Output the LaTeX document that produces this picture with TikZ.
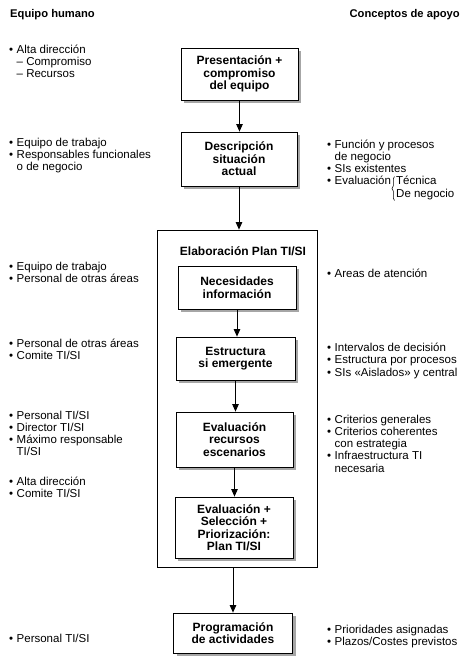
\documentclass[tikz,border=0pt]{standalone}
\usepackage{fontspec}
\setmainfont{Liberation Sans}
\usetikzlibrary{arrows.meta,shadows,decorations.pathreplacing}
\newcommand\bl{\makebox[7.5pt][l]{•}}
\newcommand\ind{\hspace*{7.5pt}}
\newcommand\lst[1]{\begin{tabular}[t]{@{}l@{}}#1\end{tabular}}
\begin{document}
\begin{tikzpicture}[x=1pt,y=-1pt,
  list/.style={anchor=base west, inner sep=0pt, font=\fontsize{11.5}{12.3}\selectfont},
  head/.style={inner sep=0pt, font=\bfseries\fontsize{11.2}{12.5}\selectfont},
  stepbox/.style={draw, line width=0.8pt, fill=white, align=center, inner sep=0pt,
    font=\bfseries\fontsize{12}{12.5}\selectfont,
    drop shadow={shadow xshift=3pt, shadow yshift=-3pt, fill=black!35, opacity=1}},
  arr/.style={-{Triangle[width=6.5pt,length=7.5pt]}, line width=0.8pt}]
\useasboundingbox (0,0) rectangle (476,665);
% headers
\node[head, anchor=base west] (hl) at (10,17) {Equipo humano};
\node[head, anchor=base east] (hr) at (460,17) {Conceptos de apoyo};
% big box
\node[draw, line width=0.8pt, minimum width=160pt, minimum height=337pt, inner sep=0pt] (big) at (237,398.5) {};
\node[anchor=base, inner sep=0pt, font=\bfseries\fontsize{12}{12.5}\selectfont] (title) at (243,255) {Elaboración Plan TI/SI};
% step boxes
\node[stepbox, minimum width=117pt, minimum height=52pt] (b1) at (239.5,74) {Presentación +\\compromiso\\del equipo};
\node[stepbox, minimum width=116pt, minimum height=54pt] (b2) at (239,159) {Descripción\\situación\\actual};
\node[stepbox, minimum width=118pt, minimum height=43pt] (b3) at (237,287.5) {Necesidades\\información};
\node[stepbox, minimum width=119pt, minimum height=43pt] (b4) at (235.5,358.5) {Estructura\\si emergente};
\node[stepbox, minimum width=117pt, minimum height=55pt] (b5) at (234.5,439.5) {Evaluación\\recursos\\escenarios};
\node[stepbox, minimum width=118pt, minimum height=61pt] (b6) at (234,527.5) {Evaluación +\\Selección +\\Priorización:\\Plan TI/SI};
\node[stepbox, minimum width=119pt, minimum height=40pt] (b7) at (233,633) {Programación\\de actividades};
% arrows
\draw[arr] (b1.south) -- (b1.south |- b2.north);
\draw[arr] (b2.south) -- (b2.south |- big.north);
\draw[arr] (b3.south) -- (b3.south |- b4.north);
\draw[arr] (b4.south) -- (b4.south |- b5.north);
\draw[arr] (b5.south) -- (b5.south |- b6.north);
\draw[arr] (b7.north |- big.south) -- (b7.north);
% left column
\node[list] (l1) at (9,53) {\lst{\bl Alta dirección\\\ind – Compromiso\\\ind – Recursos}};
\node[list] (l2) at (9,146) {\lst{\bl Equipo de trabajo\\\bl Responsables funcionales\\\ind o de negocio}};
\node[list] (l3) at (9,270.5) {\lst{\bl Equipo de trabajo\\\bl Personal de otras áreas}};
\node[list] (l4) at (9,347) {\lst{\bl Personal de otras áreas\\\bl Comite TI/SI}};
\node[list] (l5) at (9,419) {\lst{\bl Personal TI/SI\\\bl Director TI/SI\\\bl Máximo responsable\\\ind TI/SI}};
\node[list] (l6) at (9,485) {\lst{\bl Alta dirección\\\bl Comite TI/SI}};
\node[list] (l7) at (9,642) {\lst{\bl Personal TI/SI}};
% right column
\node[list] (r1) at (327,148) {\lst{\bl Función y procesos\\\ind de negocio\\\bl SIs existentes\\\bl Evaluación}};
\node[list] (r1b) at (396,184.9) {\lst{Técnica\\De negocio}};
\draw[line width=0.5pt, decorate, decoration={brace, amplitude=2.5pt}] (394.5,200.5) -- (394.5,176.5);
\node[list] (r2) at (327,277) {\lst{\bl Areas de atención}};
\node[list] (r3) at (327,351.5) {\lst{\bl Intervalos de decisión\\\bl Estructura por procesos\\\bl SIs «Aislados» y central}};
\node[list] (r4) at (327,423) {\lst{\bl Criterios generales\\\bl Criterios coherentes\\\ind con estrategia\\\bl Infraestructura TI\\\ind necesaria}};
\node[list] (r5) at (327,633) {\lst{\bl Prioridades asignadas\\\bl Plazos/Costes previstos}};
\end{tikzpicture}
\end{document}
